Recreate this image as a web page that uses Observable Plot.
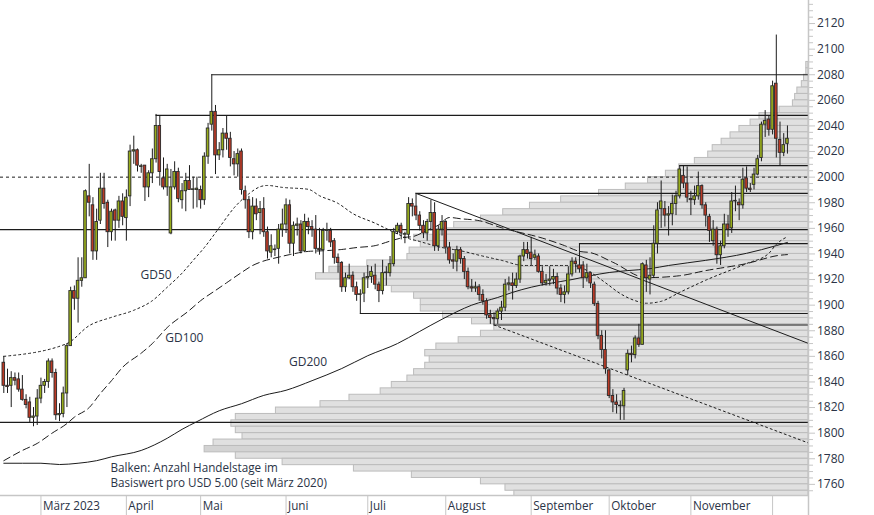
<!DOCTYPE html>
<html><head><meta charset="utf-8">
<script src="https://cdn.jsdelivr.net/npm/d3@7"></script>
<script src="https://cdn.jsdelivr.net/npm/@observablehq/plot@0.6"></script>
<style>html,body{margin:0;padding:0;background:#fff;overflow:hidden}#chart svg{display:block}</style>
</head><body><div id="chart"></div>
<script>
// ---------- data ----------
const firstDay = "2023-02-15";
const lastDay = "2023-12-07";
const open  = [1855,1837,1837,1843,1842,1834,1826,1824,1812,1813, 1827,1837,1840,1856,1847,1814,1815,1831,1868,1911,1905,1919,1921,1985,1978,1942,1966,1991,1980,1957,1974,1966,1981, 1968,1985,2020,2021,2008,2009,1992,2003,2014,2040,1999,1992,1956,1992,2004,1982,1989,1997,1990,1990, 1990,1982,2016,2041,2051,2017,2021,2034,2030,2014,2010,2020,1989,1982,1957,1977,1972,1975,1957,1941,1943,1944,1959, 1963,1978,1948,1962,1963,1942,1965,1961,1959,1944,1943,1958,1958,1950,1937,1933,1914,1921,1923,1914,1908,1909, 1921,1922,1923,1916,1911,1925,1925,1932,1957,1962,1955,1955,1979,1977,1970,1962,1956,1965,1972,1946,1959, 1965,1945,1935,1934,1943,1936,1926,1914,1913,1914,1908,1903,1892,1890,1889,1895,1898,1916,1917,1915,1920,1938,1943, 1941,1937,1938,1926,1917,1919,1920,1922,1913,1908,1910,1924,1934,1931,1931,1921,1925,1916,1901,1876,1865, 1849,1829,1824,1821,1821,1849,1862,1861,1874,1869,1931,1920,1923,1948,1975,1975,1970,1971,1979,1985,2001,1995, 1983,1982,1985,1993,1978,1969,1950,1959,1939,1946,1963,1960,1981,1980,1978,1999,1991,1994,2002,2015,2041,2045, 2037,2073,2029,2019,2026];
const high  = [1860,1850,1848,1847,1847,1845,1830,1828,1820,1834, 1843,1842,1858,1858,1850,1823,1836,1870,1914,1915,1937,1937,1990,2010,1984,1975,2003,2003,1982,1975,1975,1985,1987, 1990,2025,2032,2022,2010,2009,2005,2022,2049,2048,2015,2010,2006,2012,2007,1995,2003,2009,2000,2000, 1993,2019,2042,2080,2056,2027,2038,2048,2035,2020,2022,2022,1993,1985,1984,1983,1981,1984,1961,1955,1947,1963,1975, 1983,1982,1965,1968,1966,1971,1968,1966,1970,1960,1960,1964,1960,1952,1940,1934,1925,1932,1926,1918,1912,1925, 1931,1930,1932,1918,1935,1930,1938,1960,1964,1964,1957,1984,1983,1987,1973,1966,1967,1982,1980,1962,1970, 1966,1949,1940,1946,1945,1938,1929,1920,1918,1916,1912,1905,1896,1894,1897,1903,1920,1922,1925,1925,1939,1949,1949, 1953,1943,1940,1930,1924,1930,1928,1925,1916,1915,1930,1937,1937,1948,1934,1932,1926,1918,1903,1880,1880, 1850,1834,1830,1825,1835,1865,1868,1876,1885,1933,1935,1937,1962,1980,1997,1981,1977,1986,1989,2009,2009,2008, 1989,1993,2004,1994,1980,1971,1966,1961,1950,1971,1970,1988,1993,1983,2007,2008,1995,2007,2017,2043,2052,2048, 2075,2111,2043,2034,2040];
const low   = [1831,1831,1820,1837,1832,1825,1819,1808,1805,1806, 1823,1831,1835,1843,1810,1809,1812,1820,1868,1896,1886,1914,1921,1969,1935,1935,1963,1975,1945,1950,1950,1960,1962, 1950,1977,2010,2004,2003,1981,1984,1995,2011,1993,1990,1985,1955,1990,1980,1975,1973,1990,1975,1976, 1975,1978,2010,2036,2002,2013,2015,2021,2008,2001,2000,1986,1975,1952,1951,1966,1955,1953,1936,1937,1938,1932,1953, 1956,1940,1938,1954,1940,1941,1955,1953,1940,1939,1925,1950,1945,1932,1925,1910,1910,1920,1910,1903,1893,1902, 1913,1917,1912,1902,1908,1915,1922,1930,1955,1951,1948,1952,1969,1966,1958,1952,1950,1958,1942,1942,1954, 1940,1932,1928,1926,1932,1920,1912,1910,1910,1903,1900,1889,1885,1884.5,1885,1888,1895,1911,1904,1913,1917,1934,1936, 1931,1935,1925,1915,1915,1915,1916,1908,1902,1901,1908,1922,1925,1925,1913,1918,1913,1899,1873,1858,1846, 1827,1816,1815,1810,1810,1845,1855,1858,1867,1869,1910,1908,1921,1940,1960,1961,1954,1962,1970,1983,1991,1980, 1970,1978,1982,1975,1961,1949,1946,1932,1931,1944,1953,1956,1973,1966,1975,1988,1988,1990,2001,2012,2031,2032, 2033,2015,2009,2016,2018];
const close = [1837,1836,1843,1841,1834,1826,1822,1812,1813,1827, 1837,1840,1856,1847,1814,1815,1831,1868,1911,1905,1919,1921,1989,1980,1942,1965,1991,1979,1957,1973,1966,1981,1969, 1984,2020,2021,2009,2008.5,1992,2003,2014,2040,2004,1992,2006,1992,2004,1983,1989,1997,1990,1990.5,1991, 1982,2016,2038,2051,2017,2021,2034,2030,2015,2010,2018,1990,1982,1957,1977,1971,1975,1957,1942,1946,1943.5,1959,1963, 1978,1948,1962,1963,1942,1965,1961,1959,1944,1943,1958,1958.5,1949,1937,1933,1914,1921,1923,1914,1908,1908.5,1921, 1922,1926,1916,1911,1925,1925.5,1932,1957,1962,1956,1955.5,1979,1977,1970,1962,1956,1965,1972,1946,1959,1965, 1945,1935,1934,1943,1936,1926,1914,1913,1914,1908,1903,1892,1890,1889,1895,1898,1916,1917,1915,1920,1938,1943,1940, 1936,1939,1926,1917,1919,1920,1922,1913,1908,1910,1924,1934,1932,1928,1921,1925,1917,1901,1876,1865,1850, 1829,1824,1822,1821.5,1833,1862,1861,1874,1869,1932,1921,1923,1948,1974,1981,1970,1971,1979,1985,2006,1995,1984, 1982,1985,1993,1978,1970,1958,1959,1939,1946,1963,1959,1981,1981.5,1978,1998,1991,1990,2002,2014,2041,2044,2037, 2071,2030,2019,2025,2030];

// Balken: Anzahl Handelstage je USD-5-Stufe (seit März 2020)
const binFrom = [2085,2080,2075,2070,2065,2060,2055,2050,2045,2040,2035,2030,2025,2020,2015,2010,2005,2000,1995,1990,1985,1980,1975,1970,1965,1960,1955,1950,1945,1940,1935,1930,1925,1920,1915,1910,1905,1900,1895,1890,1885,1880,1875,1870,1865,1860,1855,1850,1845,1840,1835,1830,1825,1820,1815,1810,1805,1800,1795,1790,1785,1780,1775,1770,1765,1760,1755,1750];
const binDays = [1,1,2,3,5,6,7,13,22,26,31,35,39,43,45,51,58,64,72,82,94,111,125,137,147,159,165,177,174,179,180,198,215,221,193,187,177,174,174,164,151,141,147,157,167,172,170,172,177,180,187,192,206,219,239,257,259,257,254,267,271,257,236,204,178,147,136,132];

// Gleitende Durchschnitte: [Handelstag-Nr., Wert]
const gd50 = [[0,1860],[17,1870],[23,1884],[29,1890.5],[35,1896],[40,1903.5],[44,1914],[48,1925],[51,1935],[54,1945],[58,1960.5],[62,1976],[66,1987],[69,1992.5],[71,1993.5],[75,1992],[82,1990.5],[85,1985.5],[90,1979.5],[94,1971.5],[100,1964],[105,1957],[109,1952],[111,1950.5],[118,1945],[123,1942.5],[128,1939],[134,1935],[140,1931],[153,1931],[158,1925.5],[162,1917.5],[166,1909],[170,1903.5],[173,1901.5],[177,1903],[182,1910],[189,1919.5],[200,1932.5],[206,1940.5],[208,1947.5],[211,1953.5]];
const gd100 = [[0,1778.5],[5,1786.5],[9,1792],[13,1800],[17,1807.5],[19,1812.5],[23,1820],[26,1831],[29,1841],[32,1851.5],[37,1862.5],[40,1870],[44,1882.5],[50,1896],[53,1903.5],[57,1911.5],[60,1917.5],[64,1925.5],[67,1931],[69,1933.5],[74,1937.5],[77,1939.5],[82,1942],[86,1942.5],[91,1943.5],[95,1945],[100,1946.5],[104,1950],[108,1953],[110,1953.5],[114,1958.5],[117,1962.5],[120,1968.5],[123,1967.5],[128,1966],[134,1960.5],[146,1951.5],[151,1946.5],[155,1942],[158,1941],[164,1933.5],[173,1921.5],[182,1923],[189,1927],[200,1932.5],[209,1939],[211,1939.5]];
const gd200 = [[0,1776.5],[10,1776.5],[15,1775.5],[20,1776.5],[25,1778.5],[29,1781.5],[37,1786.5],[44,1796],[48,1803],[52,1809],[58,1817.5],[64,1823],[70,1829.5],[76,1833.5],[83,1841],[91,1850.5],[98,1860.5],[106,1870],[112,1879.5],[118,1889],[126,1900],[133,1906],[137,1910],[142,1914],[147,1917],[153,1920],[158,1923],[163,1925.5],[168,1927],[174,1928.5],[179,1931],[189,1935],[200,1940.5],[208,1946.5],[211,1949]];

// Horizontale Marken: Wert und Start-Handelstag (null = ganze Breite)
const levelValues = [2080, 2048.3, 2009, 1987.3, 1959, 1948, 1893.5, 1884.5, 1808.5];
const levelStart  = [56, 41, 182, 111, null, 155, 96, 132, null];
const dottedLevel = 2000;
// Trendlinien: [Start-Handelstag, Startwert, Wert am rechten Rand]
const trendSolid  = [111, 1987.3, 1870.1];
const trendDotted = [132, 1884.5, 1792.3];

const monthLabels = ["März 2023","April","Mai","Juni","Juli","August","September","Oktober","November",""];
const yMajor = [1760,1780,1800,1820,1840,1860,1880,1900,1920,1940,1960,1980,2000,2020,2040,2060,2080,2100,2120];
const caption1 = "Balken: Anzahl Handelstage im";
const caption2 = "Basiswert pro USD 5.00 (seit März 2020)";

// ---------- build ----------
const days = d3.utcDay.range(new Date(firstDay), d3.utcDay.offset(new Date(lastDay), 1)).filter(d => d.getUTCDay() % 6 !== 0);
const candles = close.map((c, i) => ({i, d: days[i], o: open[i], h: high[i], l: low[i], c}));
const monthIdx = [];
days.forEach((d, i) => { if (i > 0 && d.getUTCMonth() !== days[i - 1].getUTCMonth()) monthIdx.push(i); });
const months = monthIdx.map((i, k) => ({i, label: monthLabels[k]}));

const X0 = -0.889, X1 = 216.67, Y0 = 1751.3, Y1 = 2138.0;
const YB = Y0 - 20 / 1.28; // bottom of the svg
const UNIT = 0.6;
const maxDays = d3.max(binDays);
const bins = binFrom.map((b, k) => ({lo: b, hi: b + 5, days: binDays[k]}));
const levels = levelValues.map((v, k) => ({v, from: levelStart[k] == null ? X0 : levelStart[k]}));
const trend = (t) => [[t[0], t[1]], [X1, t[2]]];
const yMinor = d3.range(1755, 2136, 5).filter(v => v % 20 !== 0);

const GREEN = "#98ad1c", RED = "#bb3a26", INK = "#1c1c1c", TXT = "#2a3346", GRID = "#c6c6c6";
const FONT = "Open Sans, Noto Sans, sans-serif";

const chart = Plot.plot({
  width: 874, height: 515,
  marginLeft: 0, marginRight: 66, marginTop: 0, marginBottom: 20,
  style: {fontFamily: FONT, fontSize: "11.7px", background: "#fff", color: TXT},
  x: {domain: [X0, X1], axis: null},
  y: {domain: [Y0, Y1], axis: null},
  marks: [
    Plot.rect(bins, {x1: d => X1 - d.days * UNIT, x2: X1, y1: "lo", y2: "hi",
      fill: d => d.days === maxDays ? "#d3d3d3" : "#e0e0e0", stroke: "#bcbcbc", strokeWidth: 1, clip: true}),
    Plot.ruleY([dottedLevel], {x1: X0, x2: X1, stroke: INK, strokeWidth: 1, strokeDasharray: "3,3"}),
    Plot.ruleY(levels, {y: "v", x1: "from", x2: X1, stroke: INK, strokeWidth: 1.2}),
    Plot.line(trend(trendSolid), {x: d => d[0], y: d => d[1], stroke: INK, strokeWidth: 1}),
    Plot.line(trend(trendDotted), {x: d => d[0], y: d => d[1], stroke: INK, strokeWidth: 1, strokeDasharray: "2,3"}),
    Plot.line(gd200, {x: d => d[0], y: d => d[1], stroke: INK, strokeWidth: 1, curve: "monotone-x"}),
    Plot.line(gd100, {x: d => d[0], y: d => d[1], stroke: INK, strokeWidth: 1, strokeDasharray: "7,4", curve: "monotone-x"}),
    Plot.line(gd50, {x: d => d[0], y: d => d[1], stroke: INK, strokeWidth: 1, strokeDasharray: "2,3", curve: "monotone-x"}),
    Plot.text(["GD50"], {x: 36.8, y: 1923.2, text: d => d, textAnchor: "start", fill: TXT, fontSize: 12}),
    Plot.text(["GD100"], {x: 43.5, y: 1874, text: d => d, textAnchor: "start", fill: TXT, fontSize: 12}),
    Plot.text(["GD200"], {x: 76.8, y: 1855.6, text: d => d, textAnchor: "start", fill: TXT, fontSize: 12}),
    Plot.text([caption1], {x: 28.7, y: 1772.2, text: d => d, textAnchor: "start", fill: TXT, fontSize: 11.7}),
    Plot.text([caption2], {x: 28.7, y: 1760.9, text: d => d, textAnchor: "start", fill: TXT, fontSize: 11.7}),
    // candles
    Plot.ruleX(candles, {x: "i", y1: "l", y2: "h", stroke: INK, strokeWidth: 1}),
    Plot.rect(candles, {x1: d => d.i - 0.35, x2: d => d.i + 0.35, y1: d => Math.min(d.o, d.c), y2: d => Math.max(d.o, d.c),
      fill: d => d.c >= d.o ? GREEN : RED, stroke: "#2a2a2a", strokeWidth: 0.9}),
    // frame / axes
    Plot.ruleY([Y0], {x1: X0, x2: X1, stroke: GRID, strokeWidth: 1.5}),
    Plot.ruleX([X1], {y1: YB, y2: Y1, stroke: GRID, strokeWidth: 1.5}),
    Plot.ruleX(months, {x: "i", y1: Y0, y2: YB, stroke: GRID, strokeWidth: 1}),
    Plot.text(months, {x: "i", y: Y0, dy: 11, dx: 2, text: "label", textAnchor: "start", fill: TXT, fontSize: 11.7}),
    Plot.axisY({anchor: "right", ticks: yMinor, tickSize: 4, tickFormat: () => "", stroke: GRID}),
    Plot.axisY({anchor: "right", ticks: yMajor, tickSize: 6, tickPadding: 2.5, tickFormat: d => String(d), stroke: GRID, fill: TXT, fontSize: 12})
  ]
});
document.getElementById("chart").appendChild(chart);
</script></body></html>
